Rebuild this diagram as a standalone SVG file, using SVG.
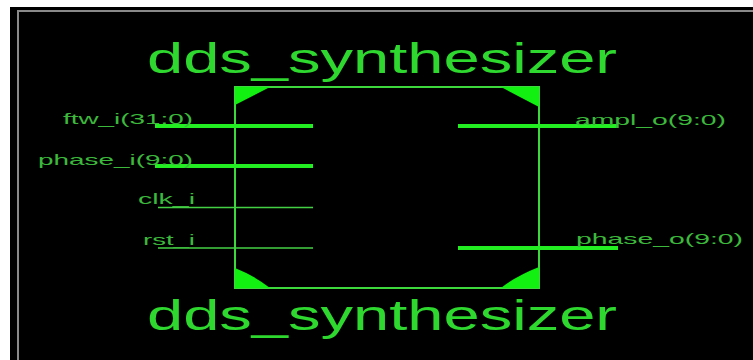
<svg xmlns="http://www.w3.org/2000/svg" width="753" height="360" viewBox="0 0 753 360">
  <style>
    .title { font-family: "Liberation Sans", Arial, sans-serif; font-size: 42px; fill: #2ed82e; }
    .pin { font-family: "Liberation Sans", Arial, sans-serif; font-size: 15px; fill: #3cb83c; }
    .bus { stroke: #22ee22; stroke-width: 4; }
    .wire { stroke: #44d044; stroke-width: 1.3; }
    .edge { fill: none; stroke: #3cd83c; stroke-width: 2; }
    .corner { fill: #11f011; }
  </style>

  <!-- canvas -->
  <rect x="0" y="0" width="753" height="360" fill="#ffffff"/>
  <rect x="10" y="7" width="743" height="353" fill="#000000"/>
  <path d="M18,360 V11 H753" fill="none" stroke="#8a8a8a" stroke-width="2"/>

  <!-- symbol body -->
  <g id="dds_synthesizer">
    <text class="title" x="147" y="73" textLength="470" lengthAdjust="spacingAndGlyphs">dds_synthesizer</text>
    <rect class="edge" x="235" y="87" width="304" height="201"/>
    <path class="corner" d="M235,87 H270 L235,105 Z"/>
    <path class="corner" d="M501,87 H539 V107 Z"/>
    <path class="corner" d="M235,288 V268 Q255,276 270,288 Z"/>
    <path class="corner" d="M539,288 V267 Q516,276 501,288 Z"/>
    <text class="title" x="147" y="330" textLength="470" lengthAdjust="spacingAndGlyphs">dds_synthesizer</text>
  </g>

  <!-- pins -->
  <g id="connectors">
    <line class="bus" x1="155" y1="126" x2="313" y2="126"/>
    <line class="bus" x1="155" y1="166" x2="313" y2="166"/>
    <line class="wire" x1="158" y1="207.5" x2="313" y2="207.5"/>
    <line class="wire" x1="158" y1="248" x2="313" y2="248"/>
    <line class="bus" x1="458" y1="126" x2="618" y2="126"/>
    <line class="bus" x1="458" y1="248" x2="618" y2="248"/>
  </g>

  <g id="pin_ftw_i"><text class="pin" x="63" y="124" textLength="130" lengthAdjust="spacingAndGlyphs">ftw_i(31:0)</text></g>
  <g id="pin_phase_i"><text class="pin" x="38" y="165" textLength="155" lengthAdjust="spacingAndGlyphs">phase_i(9:0)</text></g>
  <g id="pin_clk_i"><text class="pin" x="138" y="204" textLength="57" lengthAdjust="spacingAndGlyphs">clk_i</text></g>
  <g id="pin_rst_i"><text class="pin" x="143" y="245" textLength="52" lengthAdjust="spacingAndGlyphs">rst_i</text></g>
  <g id="pin_ampl_o"><text class="pin" x="575" y="125" textLength="151" lengthAdjust="spacingAndGlyphs">ampl_o(9:0)</text></g>
  <g id="pin_phase_o"><text class="pin" x="576" y="244" textLength="167" lengthAdjust="spacingAndGlyphs">phase_o(9:0)</text></g>
</svg>
